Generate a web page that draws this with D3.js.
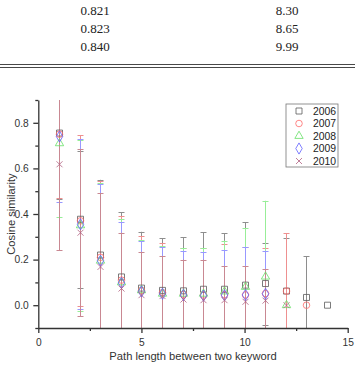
<!DOCTYPE html>
<html><head><meta charset="utf-8">
<script src="https://cdn.jsdelivr.net/npm/d3@7"></script>
<style>body{margin:0;background:#fff}svg{display:block}</style>
</head><body>
<svg id="c" width="355" height="366"></svg>
<script>
// table fragment
const tableCol1 = ["0.821","0.823","0.840"];
const tableCol2 = ["8.30","8.65","9.99"];

// chart data
const pathLen = [1,2,3,4,5,6,7,8,9,10,11,12,13,14];
const years = ["2006","2007","2008","2009","2010"];
const v2006 = [0.755,0.377,0.22,0.124,0.075,0.065,0.063,0.07,0.07,0.088,0.095,0.062,0.034,0.0];
const e2006 = [0.29,0.3,0.33,0.283,0.247,0.228,0.235,0.25,0.245,0.275,0.18,0.231,0.181,0];
const v2007 = [0.75,0.37,0.21,0.11,0.065,0.055,0.048,0.045,0.046,0.045,0.051,0.062,0.0,null];
const e2007 = [0.278,0.375,0.335,0.281,0.238,0.216,0.201,0.204,0.222,0.21,0.2,0.253,0,null];
const v2008 = [0.71,0.35,0.195,0.10,0.065,0.05,0.05,0.05,0.06,0.08,0.125,0.0,null,null];
const e2008 = [0.322,0.375,0.34,0.277,0.22,0.21,0.2,0.2,0.223,0.257,0.333,0,null,null];
const v2009 = [0.74,0.355,0.195,0.098,0.06,0.05,0.045,0.042,0.044,0.045,0.05,null,null,null];
const e2009 = [0.286,0.373,0.335,0.265,0.221,0.206,0.194,0.19,0.198,0.211,0.189,null,null,null];
const v2010 = [0.618,0.318,0.168,0.073,0.044,0.04,0.025,0.022,0.022,0.015,0.02,0.0,null,null];
const e2010 = [0.378,0.366,0.322,0.245,0.19,0.175,0.175,0.178,0.149,0.156,0.137,0,null,null];
const xTicks = [0,5,10,15];
const yTicks = [0.0,0.2,0.4,0.6,0.8];

const values = [v2006,v2007,v2008,v2009,v2010];
const errors = [e2006,e2007,e2008,e2009,e2010];
const markColor = ["#5a5a5a","#ff6a6a","#66e066","#6060ff","#b06080"];
const errColor  = ["#8e8e8e","#ee9090","#98ee98","#9898ff","#c98892"];
const shapes = [d3.symbolSquare, d3.symbolCircle, d3.symbolTriangle, d3.symbolDiamond, d3.symbolCross];

const svg = d3.select("#c");

// table
const tg = svg.append("g").attr("font-family","'Liberation Serif','DejaVu Serif',serif").attr("font-size",13).attr("fill","#222");
tableCol1.forEach((t,i)=>{
  tg.append("text").attr("x",95).attr("y",14.5+i*18.3).attr("text-anchor","middle").text(t);
  tg.append("text").attr("x",287).attr("y",14.5+i*18.3).attr("text-anchor","middle").text(tableCol2[i]);
});
svg.append("line").attr("x1",0).attr("x2",355).attr("y1",64.5).attr("y2",64.5).attr("stroke","#333").attr("stroke-width",0.9);
svg.append("line").attr("x1",0).attr("x2",355).attr("y1",67.5).attr("y2",67.5).attr("stroke","#333").attr("stroke-width",0.9);

// chart
const L=38.3, R=347.7, T=100, B=328;
const x = d3.scaleLinear().domain([0,15]).range([L,R]);
const y = d3.scaleLinear().domain([-0.1,0.9]).range([B,T]);
const px = v => Math.round(x(v)) + 0.5;   // crisp 1px stems

svg.append("defs").append("clipPath").attr("id","clip").append("rect")
  .attr("x",L).attr("y",T).attr("width",R-L).attr("height",B-T);

const plot = svg.append("g").attr("clip-path","url(#clip)");

// error bars
values.forEach((vals,s)=>{
  const g = plot.append("g").attr("stroke",errColor[s]).attr("stroke-width",1).attr("fill","none");
  vals.forEach((v,i)=>{
    const e = errors[s][i];
    if(v==null || !e) return;
    const cx = px(pathLen[i]);
    g.append("line").attr("x1",cx).attr("x2",cx).attr("y1",y(v-e)).attr("y2",y(v+e));
    g.append("line").attr("x1",cx-3).attr("x2",cx+3).attr("y1",Math.round(y(v+e))+0.5).attr("y2",Math.round(y(v+e))+0.5);
    g.append("line").attr("x1",cx-3).attr("x2",cx+3).attr("y1",Math.round(y(v-e))+0.5).attr("y2",Math.round(y(v-e))+0.5);
  });
});

function markerPath(s){
  if(s===4){ return "M-3,-3L3,3M-3,3L3,-3"; }
  const size = [36,34,30,36,30][s];
  return d3.symbol().type(shapes[s]).size(size)();
}

// markers
values.forEach((vals,s)=>{
  const g = plot.append("g").attr("stroke",markColor[s]).attr("stroke-width",0.8).attr("fill","none");
  vals.forEach((v,i)=>{
    if(v==null) return;
    g.append("path").attr("d",markerPath(s))
      .attr("transform",`translate(${px(pathLen[i])},${y(v)})`);
  });
});

// axes
const axColor="#333";
const xAxis = svg.append("g").attr("transform",`translate(0,${B})`)
  .call(d3.axisBottom(x).tickValues(xTicks).tickFormat(d3.format("d")).tickSize(5).tickSizeOuter(0));
const xMinor = svg.append("g").attr("transform",`translate(0,${B})`)
  .call(d3.axisBottom(x).tickValues([2.5,7.5,12.5]).tickFormat("").tickSize(3).tickSizeOuter(0));
const yAxis = svg.append("g").attr("transform",`translate(${L},0)`)
  .call(d3.axisLeft(y).tickValues(yTicks).tickFormat(d3.format(".1f")).tickSize(5).tickSizeOuter(0));
const yMinor = svg.append("g").attr("transform",`translate(${L},0)`)
  .call(d3.axisLeft(y).tickValues([-0.1,0.1,0.3,0.5,0.7,0.9]).tickFormat("").tickSize(3).tickSizeOuter(0));
[xAxis,xMinor,yAxis,yMinor].forEach(a=>{
  a.selectAll("path,line").attr("stroke",axColor).attr("stroke-width",1.3);
  a.selectAll("text").attr("font-family","'Liberation Sans',Arial,sans-serif").attr("font-size",10.2).attr("fill","#333");
});
xMinor.select(".domain").remove(); yMinor.select(".domain").remove();
xAxis.selectAll("text").attr("dy","0.95em");
yAxis.selectAll("text").attr("dx","-0.15em");

// axis titles
svg.append("text").attr("x",(L+R)/2).attr("y",360).attr("text-anchor","middle")
  .attr("font-family","'Liberation Sans',Arial,sans-serif").attr("font-size",11.2).attr("fill","#333")
  .text("Path length between two keyword");
svg.append("text").attr("transform",`translate(15,${y(0.4)}) rotate(-90)`).attr("text-anchor","middle")
  .attr("font-family","'Liberation Sans',Arial,sans-serif").attr("font-size",11.2).attr("fill","#333")
  .text("Cosine similarity");

// legend
const lg = svg.append("g");
lg.append("rect").attr("x",286).attr("y",104).attr("width",52).attr("height",63)
  .attr("fill","#fff").attr("stroke","#777").attr("stroke-width",0.8);
years.forEach((yr,s)=>{
  const ly = 111 + s*12.5;
  lg.append("path").attr("d",markerPath(s)).attr("transform",`translate(299,${ly})`)
    .attr("fill","none").attr("stroke",markColor[s]).attr("stroke-width",0.8);
  lg.append("text").attr("x",313).attr("y",ly+3.7)
    .attr("font-family","'Liberation Sans',Arial,sans-serif").attr("font-size",10.4).attr("fill","#222").text(yr);
});
</script>
</body></html>
